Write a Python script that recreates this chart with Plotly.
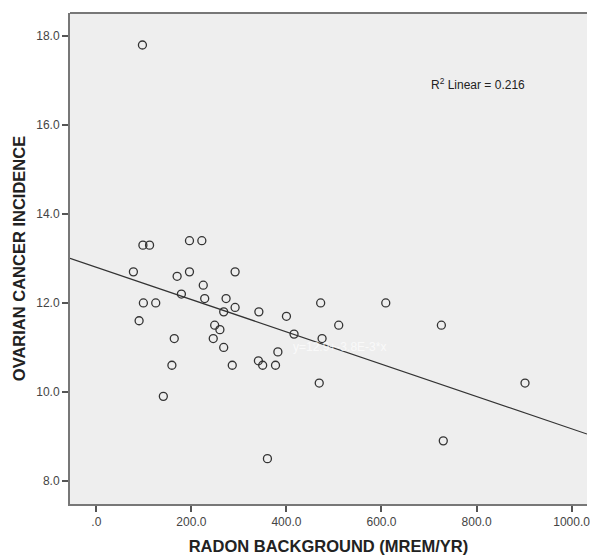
import numpy as np
import plotly.graph_objects as go

radon = [97, 98, 112, 196, 222, 78, 170, 196, 292, 225, 179, 228, 273, 292, 268, 342,
         400, 416, 99, 125, 90, 249, 260, 246, 164, 268, 382, 159, 286, 341, 350, 377,
         141, 360, 472, 609, 510, 726, 475, 469, 902, 730]
incidence = [17.8, 13.3, 13.3, 13.4, 13.4, 12.7, 12.6, 12.7, 12.7, 12.4, 12.2, 12.1, 12.1, 11.9, 11.8, 11.8,
             11.7, 11.3, 12.0, 12.0, 11.6, 11.5, 11.4, 11.2, 11.2, 11.0, 10.9, 10.6, 10.6, 10.7, 10.6, 10.6,
             9.9, 8.5, 12.0, 12.0, 11.5, 11.5, 11.2, 10.2, 10.2, 8.9]

x_ticks = [0, 200, 400, 600, 800, 1000]
x_tick_labels = [".0", "200.0", "400.0", "600.0", "800.0", "1000.0"]
y_ticks = [8, 10, 12, 14, 16, 18]
y_tick_labels = ["8.0", "10.0", "12.0", "14.0", "16.0", "18.0"]

xr = [-55.4, 1032.4]
yr = [7.48, 18.52]

slope, intercept = np.polyfit(radon, incidence, 1)
line_x = np.array(xr)
line_y = intercept + slope * line_x

fig = go.Figure()
fig.add_trace(go.Scatter(
    x=line_x, y=line_y, mode="lines",
    line=dict(color="#333333", width=1.2), hoverinfo="skip", showlegend=False))
fig.add_trace(go.Scatter(
    x=radon, y=incidence, mode="markers",
    marker=dict(symbol="circle-open", size=8, color="#333333", line=dict(width=1.3, color="#333333")),
    showlegend=False))

fig.add_annotation(x=803, y=16.92, text="R<sup>2</sup> Linear = 0.216", showarrow=False,
                   font=dict(family="Arial, Liberation Sans", size=12, color="#222222"))
fig.add_annotation(x=512, y=11.02, text="y=12.9+-3.8E-3*x", showarrow=False,
                   font=dict(family="Arial, Liberation Sans", size=12, color="#ffffff"), opacity=0.7)

# top frame line
fig.add_shape(type="line", xref="paper", yref="paper", x0=0, x1=1, y0=1, y1=1,
              line=dict(color="#777777", width=2))

fig.update_layout(
    width=590, height=555,
    margin=dict(l=70, r=0, t=13, b=51),
    paper_bgcolor="white", plot_bgcolor="#eeeeee",
    font=dict(family="Arial, Liberation Sans", color="#333333"),
    xaxis=dict(range=xr, tickvals=x_ticks, ticktext=x_tick_labels, showgrid=False, zeroline=False,
               showline=True, linecolor="#777777", linewidth=2, ticks="outside", ticklen=6,
               tickcolor="#555555", tickwidth=1.5, tickfont=dict(size=12, color="#444444"),
               ticklabeloverflow="allow",
               title=dict(text="<b>RADON BACKGROUND (MREM/YR)</b>", standoff=12,
                          font=dict(size=16.5, color="#222222"))),
    yaxis=dict(range=yr, tickvals=y_ticks, ticktext=y_tick_labels, showgrid=False, zeroline=False,
               showline=True, linecolor="#777777", linewidth=2, ticks="outside", ticklen=6,
               tickcolor="#555555", tickwidth=1.5, tickfont=dict(size=12, color="#444444"),
               title=dict(text="<b>OVARIAN CANCER INCIDENCE</b>", standoff=6,
                          font=dict(size=16.5, color="#222222"))),
)

fig.write_html("out.html", config={"displayModeBar": False},
               post_script="document.body.style.margin='0';document.body.style.overflow='hidden';")
